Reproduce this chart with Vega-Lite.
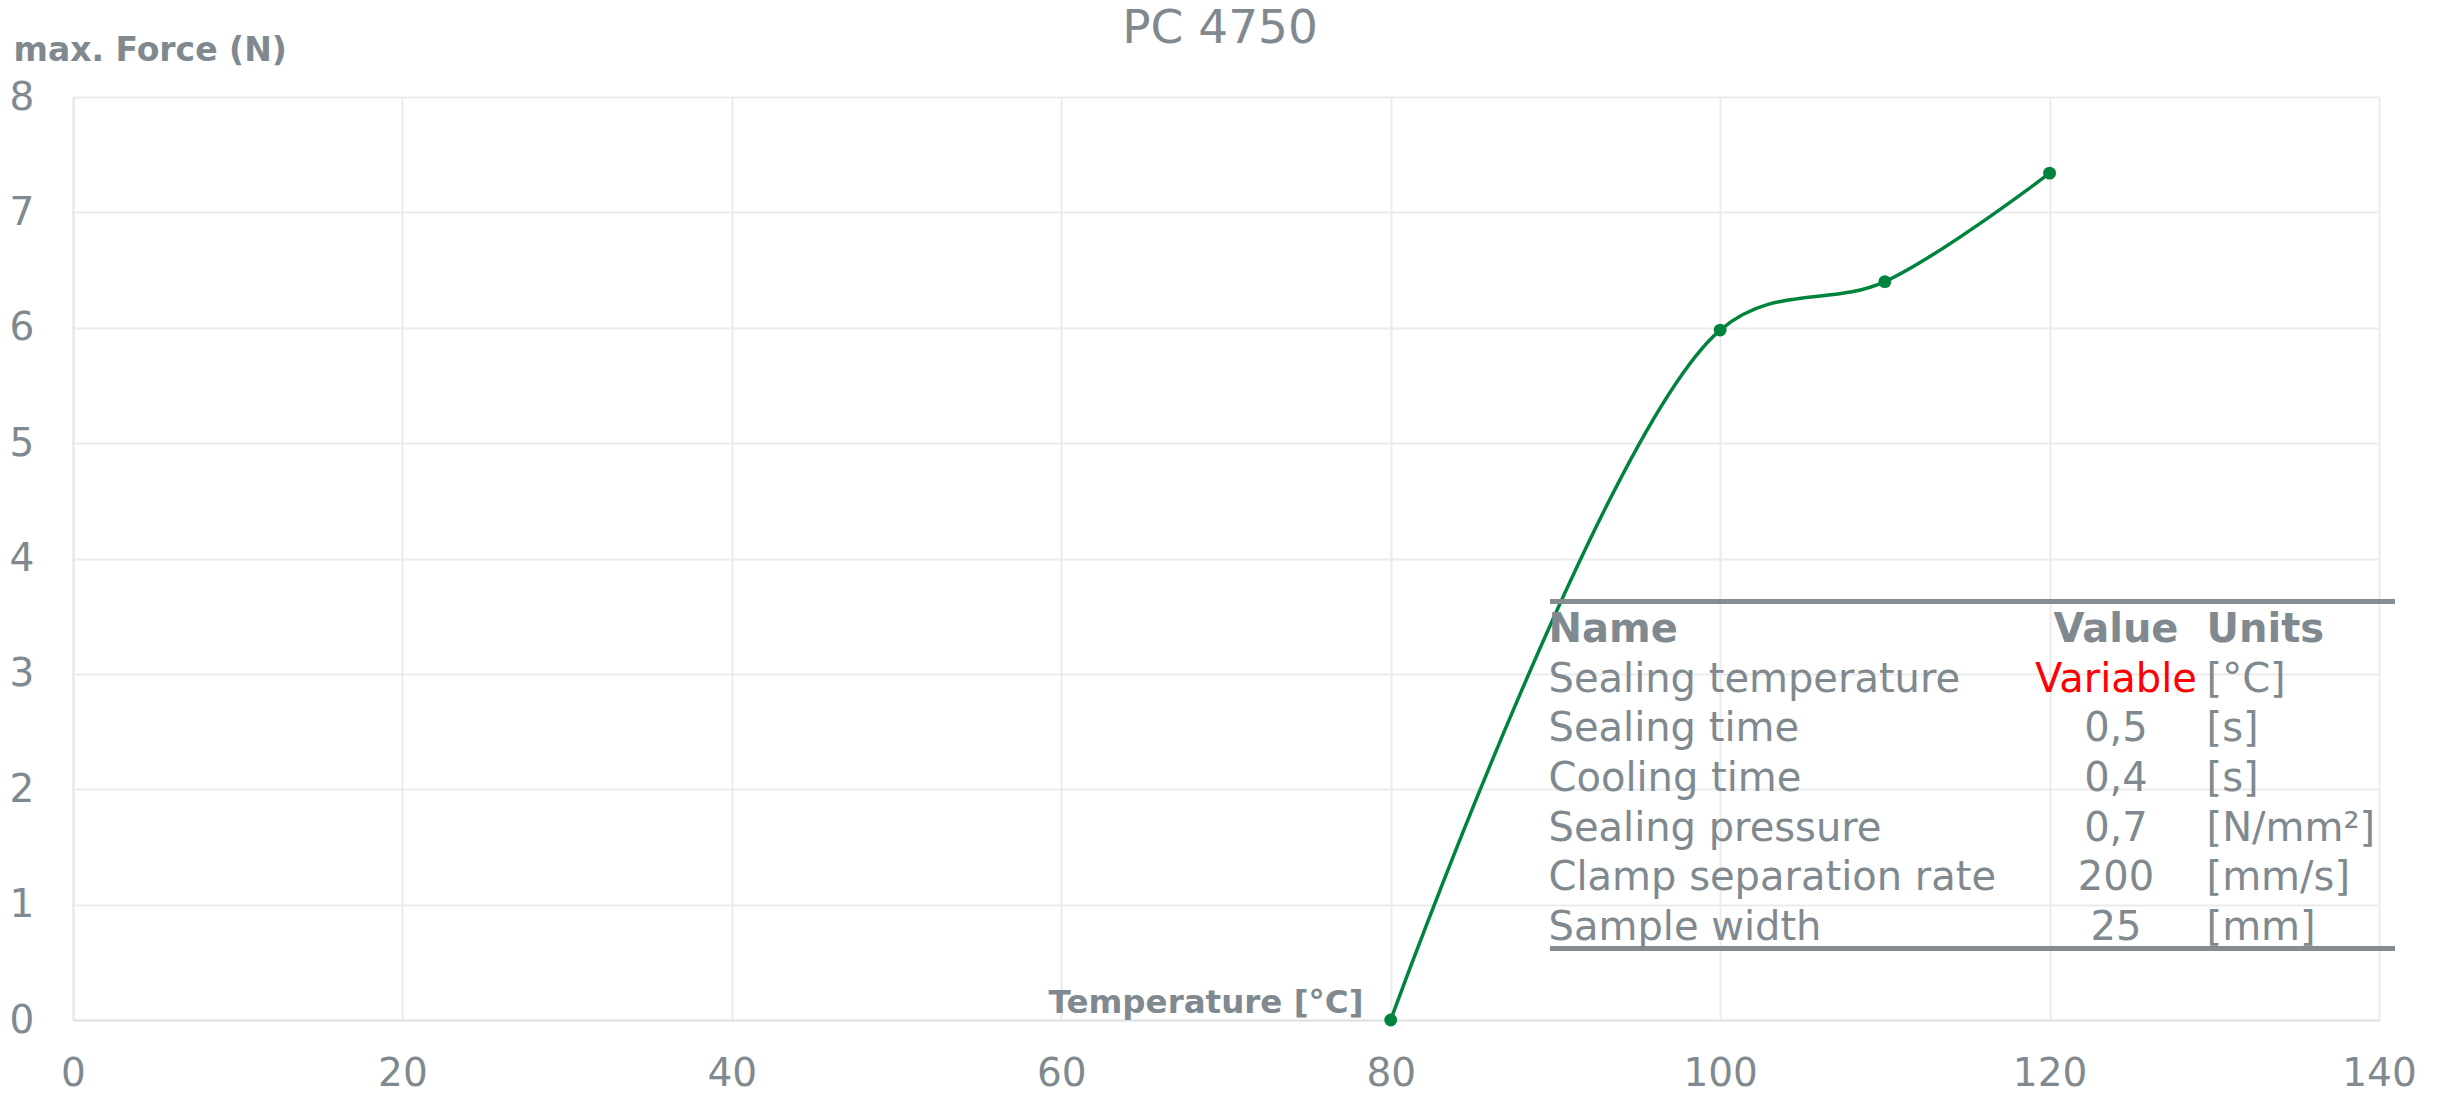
{
  "$schema": "https://vega.github.io/schema/vega-lite/v6.json",
  "width": 2306,
  "height": 923,
  "autosize": {"type": "none"},
  "padding": {"left": 73, "top": 97, "right": 61, "bottom": 73},
  "background": "white",
  "config": {"view": {"stroke": null}, "font": "DejaVu Sans"},
  "title": {"text": "PC 4750", "font": "DejaVu Sans", "fontSize": 47, "fontWeight": "normal", "color": "#80898f", "anchor": "middle", "frame": "group", "dx": -6, "dy": 23},
  "resolve": {"scale": {"y": "independent"}},
  "layer": [
    {
      "data": {"values": [
        {"temperature": 80, "force": 0},
        {"temperature": 100, "force": 5.98},
        {"temperature": 110, "force": 6.4},
        {"temperature": 120, "force": 7.34}
      ]},
      "encoding": {
        "x": {"field": "temperature", "type": "quantitative",
          "scale": {"domain": [0, 140], "nice": false, "zero": false},
          "axis": {"title": "Temperature [°C]", "titleFont": "DejaVu Sans", "titleFontSize": 32.5, "titleFontWeight": "bold", "titleColor": "#80898f",
            "titleAlign": "right", "titleAnchor": null, "titleX": 1290, "titleY": -8, "titleBaseline": "alphabetic", "titlePadding": 0,
            "values": [0, 20, 40, 60, 80, 100, 120, 140], "labelFont": "DejaVu Sans", "labelFontSize": 39, "labelColor": "#80898f",
            "labelPadding": 65, "labelBaseline": "alphabetic", "labelFlush": false, "labelOverlap": false, "ticks": false, "tickSize": 0,
            "grid": true, "gridColor": "#ebebeb", "gridWidth": 2, "domainColor": "#dfe3e5", "domainWidth": 2}},
        "y": {"field": "force", "type": "quantitative",
          "scale": {"domain": [0, 8], "nice": false},
          "axis": {"title": "max. Force (N)", "titleFont": "DejaVu Sans", "titleFontSize": 33, "titleFontWeight": "bold", "titleColor": "#80898f",
            "titleAngle": 0, "titleAlign": "left", "titleAnchor": null, "titleX": -60, "titleY": -37, "titleBaseline": "alphabetic",
            "values": [0, 1, 2, 3, 4, 5, 6, 7, 8], "labelFont": "DejaVu Sans", "labelFontSize": 39, "labelColor": "#80898f",
            "labelAlign": "left", "labelBaseline": "middle", "labelPadding": 64, "labelFlush": false, "labelOverlap": false, "ticks": false, "tickSize": 0,
            "grid": true, "gridColor": "#ebebeb", "gridWidth": 2, "domainColor": "#e6e9eb", "domainWidth": 2}}
      },
      "layer": [
        {"mark": {"type": "line", "interpolate": "catmull-rom", "color": "#00843d", "strokeWidth": 3.5}},
        {"mark": {"type": "point", "filled": true, "size": 165, "color": "#00843d", "opacity": 1}}
      ]
    },
    {
      "data": {"values": [
        {"row": 0, "name": "Name", "value": "Value", "unit": "Units"},
        {"row": 1, "name": "Sealing temperature", "value": "Variable", "unit": "[°C]"},
        {"row": 2, "name": "Sealing time", "value": "0,5", "unit": "[s]"},
        {"row": 3, "name": "Cooling time", "value": "0,4", "unit": "[s]"},
        {"row": 4, "name": "Sealing pressure", "value": "0,7", "unit": "[N/mm²]"},
        {"row": 5, "name": "Clamp separation rate", "value": "200", "unit": "[mm/s]"},
        {"row": 6, "name": "Sample width", "value": "25", "unit": "[mm]"}
      ]},
      "layer": [
        {
          "mark": {"type": "rule", "color": "#858d92", "strokeWidth": 4.5},
          "encoding": {
            "x": {"datum": 89.67, "type": "quantitative", "scale": {"domain": [0, 140], "nice": false, "zero": false}},
            "x2": {"datum": 140.97},
            "y": {"datum": -0.815, "type": "quantitative", "scale": {"domain": [-10.972, 7.611], "reverse": true, "nice": false, "zero": false}, "axis": null}
          }
        },
        {
          "mark": {"type": "rule", "color": "#858d92", "strokeWidth": 4.5},
          "encoding": {
            "x": {"datum": 89.67, "type": "quantitative", "scale": {"domain": [0, 140], "nice": false, "zero": false}},
            "x2": {"datum": 140.97},
            "y": {"datum": 6.171, "type": "quantitative", "scale": {"domain": [-10.972, 7.611], "reverse": true, "nice": false, "zero": false}, "axis": null}
          }
        },
        {
          "transform": [{"filter": "datum.row === 0"}],
          "encoding": {
            "y": {"field": "row", "type": "quantitative", "scale": {"domain": [-10.972, 7.611], "reverse": true, "nice": false, "zero": false}, "axis": null}
          },
          "layer": [
            {"mark": {"type": "text", "font": "DejaVu Sans", "fontSize": 40, "fontWeight": "bold", "color": "#80898f", "align": "left", "baseline": "alphabetic"},
             "encoding": {"x": {"datum": 89.58, "type": "quantitative", "scale": {"domain": [0, 140], "nice": false, "zero": false}}, "text": {"field": "name"}}},
            {"mark": {"type": "text", "font": "DejaVu Sans", "fontSize": 40, "fontWeight": "bold", "color": "#80898f", "align": "center", "baseline": "alphabetic"},
             "encoding": {"x": {"datum": 124.03, "type": "quantitative", "scale": {"domain": [0, 140], "nice": false, "zero": false}}, "text": {"field": "value"}}},
            {"mark": {"type": "text", "font": "DejaVu Sans", "fontSize": 40, "fontWeight": "bold", "color": "#80898f", "align": "left", "baseline": "alphabetic"},
             "encoding": {"x": {"datum": 129.53, "type": "quantitative", "scale": {"domain": [0, 140], "nice": false, "zero": false}}, "text": {"field": "unit"}}}
          ]
        },
        {
          "transform": [{"filter": "datum.row > 0"}],
          "encoding": {
            "y": {"field": "row", "type": "quantitative", "scale": {"domain": [-10.972, 7.611], "reverse": true, "nice": false, "zero": false}, "axis": null}
          },
          "layer": [
            {"mark": {"type": "text", "font": "DejaVu Sans", "fontSize": 40, "color": "#80898f", "align": "left", "baseline": "alphabetic"},
             "encoding": {"x": {"datum": 89.58, "type": "quantitative", "scale": {"domain": [0, 140], "nice": false, "zero": false}}, "text": {"field": "name"}}},
            {"mark": {"type": "text", "font": "DejaVu Sans", "fontSize": 40, "align": "center", "baseline": "alphabetic"},
             "encoding": {"x": {"datum": 124.03, "type": "quantitative", "scale": {"domain": [0, 140], "nice": false, "zero": false}}, "text": {"field": "value"},
               "color": {"condition": {"test": "datum.value === 'Variable'", "value": "#ff0000"}, "value": "#80898f"}}},
            {"mark": {"type": "text", "font": "DejaVu Sans", "fontSize": 40, "color": "#80898f", "align": "left", "baseline": "alphabetic"},
             "encoding": {"x": {"datum": 129.53, "type": "quantitative", "scale": {"domain": [0, 140], "nice": false, "zero": false}}, "text": {"field": "unit"}}}
          ]
        }
      ]
    }
  ]
}
